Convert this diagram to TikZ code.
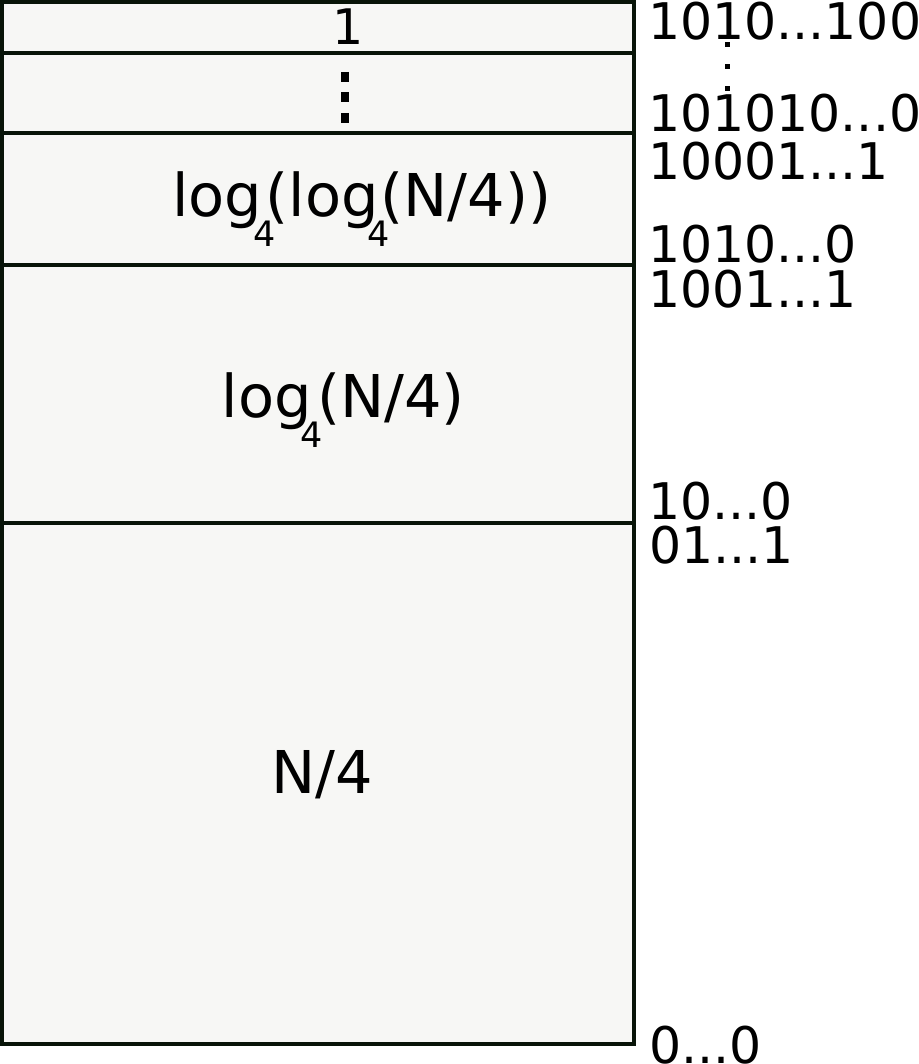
\documentclass[tikz,border=0pt]{standalone}
\usepackage{fontspec}
\setmainfont{DejaVu Sans}
\definecolor{boxfill}{HTML}{F7F7F5}
\definecolor{boxline}{RGB}{8,20,8}
\newcommand{\subf}[3]{\kern#1pt\raisebox{-30pt}{\fontsize{35}{35}\selectfont #3}\kern#2pt}
\begin{document}
\begin{tikzpicture}[x=1pt,y=-1pt,
  band/.style={draw=boxline,fill=boxfill,line width=4pt},
  rlabel/.style={anchor=base west,inner sep=0pt,font=\fontsize{50.5}{50.5}\selectfont},
  blabel/.style={anchor=base west,inner sep=0pt,font=\fontsize{59}{59}\selectfont}]
\useasboundingbox (0,0) rectangle (918,1064);
\draw[band] (2,2) rectangle (633.5,53);
\draw[band] (2,53) rectangle (633.5,133);
\draw[band] (2,133) rectangle (633.5,265);
\draw[band] (2,265) rectangle (633.5,523);
\draw[band] (2,523) rectangle (633.5,1044);
% box labels
\node[inner sep=0pt,anchor=base,font=\fontsize{49}{49}\selectfont] (one) at (348,45) {1};
\coordinate (vd1) at (345,72);
\coordinate (vd2) at (345,123);
\draw[line width=8pt,dash pattern=on 10pt off 10.5pt] (vd1) -- (vd2);
\node[blabel] (loglog) at (172,217) {log\subf{-9}{-9.5}{4}(log\subf{-11}{-9.5}{4}(N/4))};
\node[blabel] (logn) at (221.5,417) {log\subf{-11}{-5.5}{4}(N/4)};
\node[blabel] (nq) at (271,793) {N/4};
% right labels
\node[rlabel] (a1) at (648,40) {1010...100};
\node[rlabel] (a2) at (648,132) {101010...0};
\node[rlabel] (a3) at (648,180) {10001...1};
\node[rlabel] (a4) at (648,262) {1010...0};
\node[rlabel] (a5) at (648,307) {1001...1};
\node[rlabel] (a6) at (648,519) {10...0};
\node[rlabel] (a7) at (649,563) {01...1};
\node[rlabel] (a8) at (649,1063) {0...0};
\coordinate (rd1) at (727,42.5);
\coordinate (rd2) at (727,91.5);
\draw[line width=5pt,dash pattern=on 5pt off 17pt] (rd1) -- (rd2);
\end{tikzpicture}
\end{document}
